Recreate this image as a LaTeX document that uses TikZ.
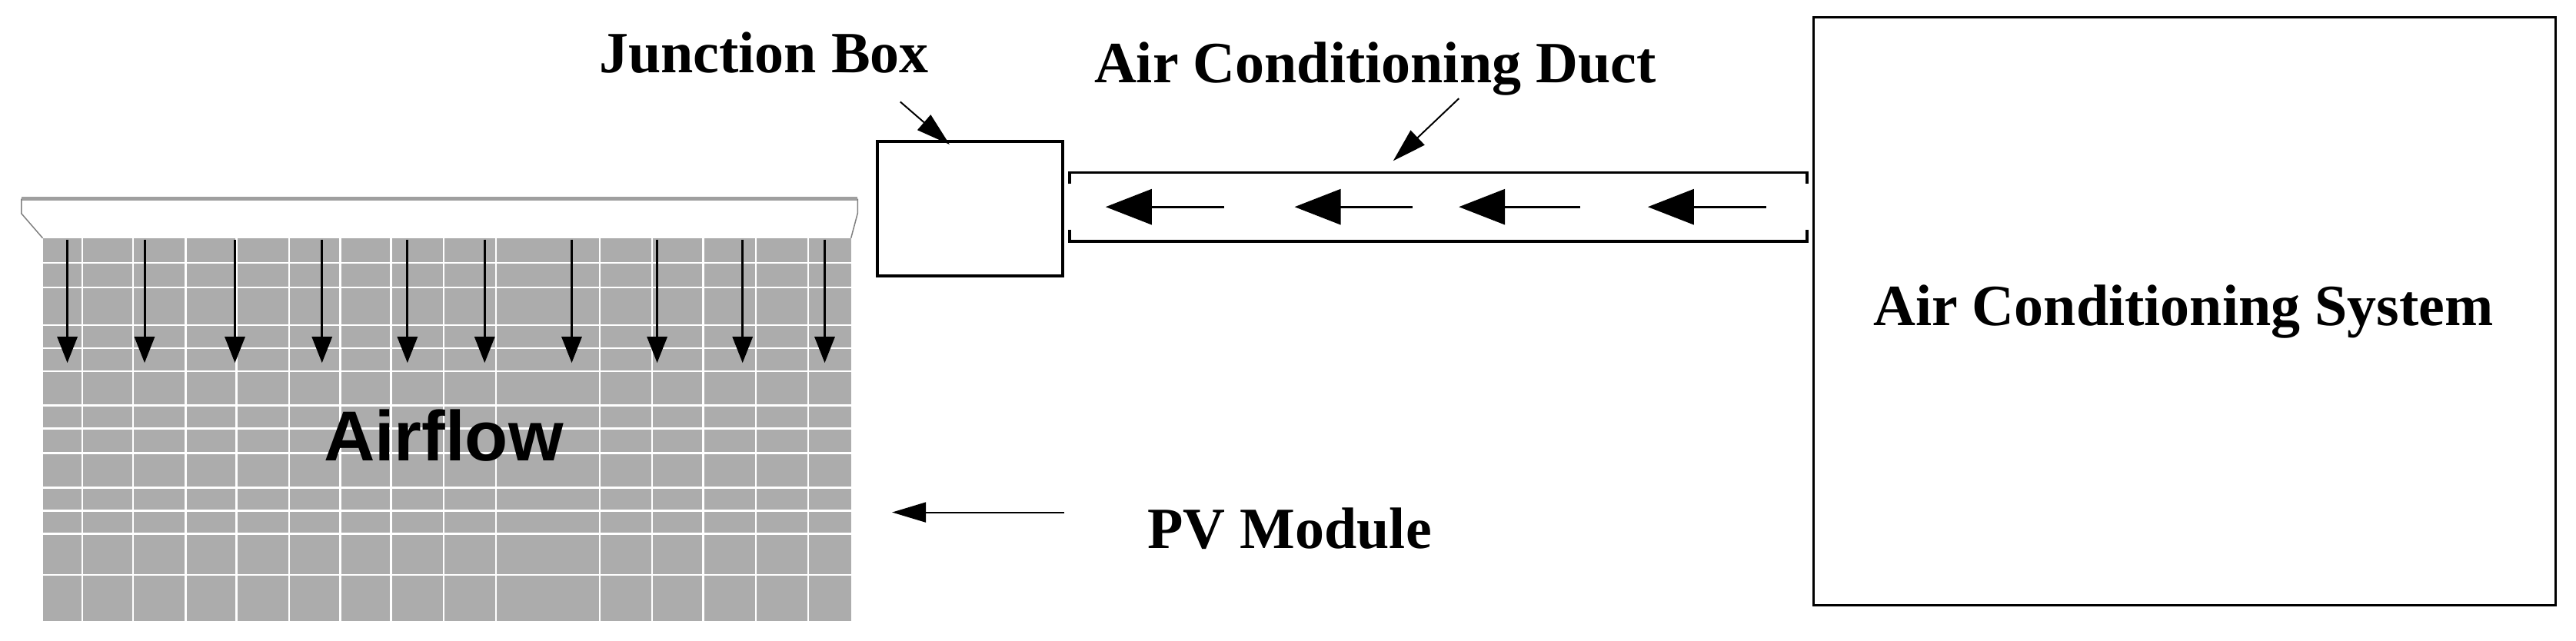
\documentclass[tikz,border=0pt]{standalone}
\usepackage{fontspec}
\setmainfont{Liberation Serif}
\newfontfamily\sansf{Liberation Sans}
\usetikzlibrary{arrows.meta}
\begin{document}
\begin{tikzpicture}[x=2.137pt,y=-2.137pt,
  lbl/.style={font=\fontsize{76}{80}\selectfont\bfseries, inner sep=0pt},
  box/.style={draw=black,line width=4pt},
  fl/.style={-{Triangle[length=34pt,width=26pt]},line width=3pt},
  pt/.style={-{Triangle[length=44pt,width=26pt]},line width=2pt},
  dt/.style={-{Triangle[length=60pt,width=46pt]},line width=3pt}]
\useasboundingbox (0,0) rectangle (1568,390);
% PV panel
\fill[gray!65] (26,145) rectangle (518,378);
\foreach \x in {50,81,113,144,176,207,238,270,302,365,397,428,460,492}
  \draw[white,line width=2.5pt] (\x,145) -- (\x,378);
\foreach \y in {160,175,198,212,226,247,261,276,297,311,325,350}
  \draw[white,line width=2.5pt] (26,\y) -- (518,\y);
\draw[gray!75,line width=5pt] (13,121) -- (522,121);
\draw[gray,line width=1.5pt] (13,121) -- (13,130) -- (26,145);
\draw[gray,line width=1.5pt] (522,121) -- (522,130) -- (518,145);
\foreach \x[count=\i] in {41,88,143,196,248,295,348,400,452,502}{
  \coordinate (s\i) at (\x,146); \coordinate (e\i) at (\x,221);
  \draw[fl] (s\i) -- (e\i);}
\node[font=\sansf\fontsize{92}{96}\selectfont\bfseries] (air) at (270,265) {Airflow};
% junction box
\node[box,minimum width=113*2.137pt,minimum height=82*2.137pt,anchor=north west,inner sep=0pt] (jb) at (533,85) {};
% duct
\coordinate (d1) at (651,105); \coordinate (d2) at (1100,105);
\coordinate (d3) at (651,147); \coordinate (d4) at (1100,147);
\draw[line width=3.5pt] (651,112) -- (d1) -- (d2) -- (1100,112);
\draw[line width=3.5pt] (651,140) -- (d3) -- (d4) -- (1100,140);
\foreach \a/\b[count=\i] in {745/673,860/788,962/888,1075/1003}{
  \coordinate (ta\i) at (\a,126); \coordinate (ha\i) at (\b,126);
  \draw[dt] (ta\i) -- (ha\i);}
% AC system
\node[box,minimum width=452*2.137pt,minimum height=358*2.137pt,anchor=north west,inner sep=0pt,line width=3pt] (ac) at (1103,10) {};
\node[lbl] (acl) at (1329,190) {Air Conditioning System};
% labels
\node[lbl] (jbl) at (465,32) {Junction Box};
\coordinate (jbs) at (548,62); \coordinate (jbt) at (578,88);
\draw[pt] (jbs) -- (jbt);
\node[lbl] (dl) at (837,42) {Air Conditioning Duct};
\coordinate (ds) at (888,60); \coordinate (dtt) at (848,98);
\draw[pt] (ds) -- (dtt);
\node[lbl] (pvl) at (785,322) {PV Module};
\coordinate (pvs) at (648,312); \coordinate (pvt) at (543,312);
\draw[pt] (pvs) -- (pvt);
\end{tikzpicture}
\end{document}
